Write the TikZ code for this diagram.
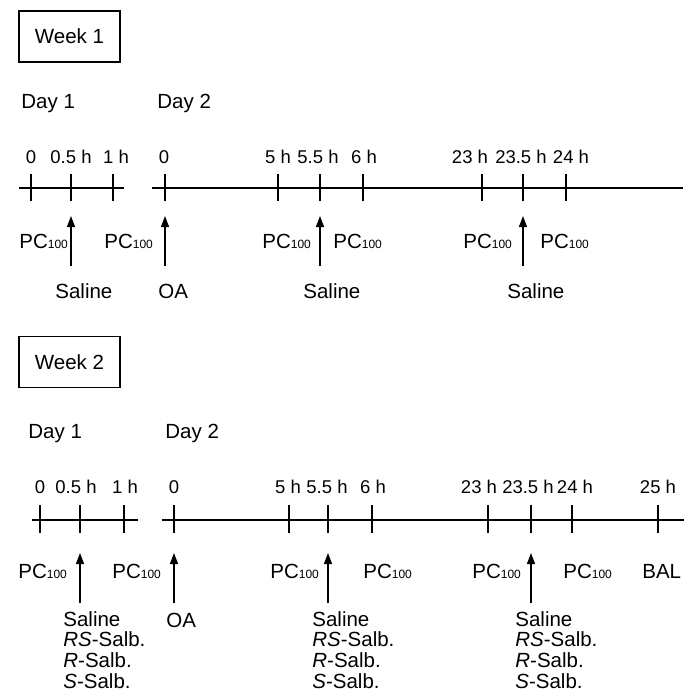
\documentclass[tikz,border=0pt]{standalone}
\usepackage{fontspec}
\setmainfont{Liberation Sans}
\usetikzlibrary{arrows.meta}
\newcommand{\pcsub}{PC{\fontsize{6}{6}\selectfont 100}}
\newcommand{\salbgroup}{Saline\\\textit{RS}-Salb.\\\textit{R}-Salb.\\\textit{S}-Salb.}

\begin{document}
\begin{tikzpicture}[x=0.5pt, y=-0.5pt,
    week/.style={draw, line width=0.6pt, minimum width=50.5pt, minimum height=25.5pt,
                 inner sep=0pt, font=\fontsize{10.25}{12}\selectfont},
    lbl/.style={anchor=base west, inner sep=0pt, font=\fontsize{10.25}{12}\selectfont},
    tlbl/.style={anchor=base, inner sep=0pt, font=\fontsize{9.25}{11}\selectfont},
    drug/.style={lbl, align=left, font=\fontsize{10.25}{10.3}\selectfont},
    axis/.style={line width=0.65pt},
    arrow/.style={-{Triangle[length=5.5pt, width=4pt]}, line width=0.65pt},
  ]
  \useasboundingbox (0,0) rectangle (693,692);

  % week 1
  \node[week] (wk1) at (69.5,36.5) {Week 1};
  \node[lbl] (w1d1) at (21,108)  {Day 1};
  \node[lbl] (w1d2) at (157,108) {Day 2};

  \draw[axis] (19,188) -- (124,188);
  \draw[axis] (152,188) -- (683,188);
  \foreach \x in {31,71,113,165,278,320,363,482,523,566}
    \draw[axis] (\x,174) -- (\x,201);
  \foreach \x/\t [count=\i] in {31/0, 71/0.5 h, 116/1 h, 164/0, 278/5 h, 318/5.5 h,
                                364/6 h, 470/23 h, 521/23.5 h, 571/24 h}
    \node[tlbl] (w1t\i) at (\x,163) {\t};

  \foreach \x [count=\i] in {19,104,262,333,463,540}
    \node[lbl] (w1pc\i) at (\x,248) {\pcsub};

  \node[lbl] (w1s1) at (55,298)  {Saline};
  \node[lbl] (w1oa) at (158,298) {OA};
  \node[lbl] (w1s2) at (303,298) {Saline};
  \node[lbl] (w1s3) at (507,298) {Saline};

  \foreach \x [count=\i] in {71,165,320,523} {
    \coordinate (w1a\i) at (\x,266);
    \coordinate (w1b\i) at (\x,216);
    \draw[arrow] (w1a\i) -- (w1b\i);
  }

  % week 2
  \node[week] (wk2) at (69.5,362) {Week 2};
  \node[lbl] (w2d1) at (28,438)  {Day 1};
  \node[lbl] (w2d2) at (165,438) {Day 2};

  \draw[axis] (32,520) -- (138,520);
  \draw[axis] (162,520) -- (684,520);
  \foreach \x in {40,80,124,174,289,328,372,488,531,572,658}
    \draw[axis] (\x,505) -- (\x,533);
  \foreach \x/\t [count=\i] in {40/0, 76/0.5 h, 125/1 h, 174/0, 288/5 h, 327/5.5 h,
                                373/6 h, 479/23 h, 528/23.5 h, 575/24 h, 658/25 h}
    \node[tlbl] (w2t\i) at (\x,493) {\t};

  \foreach \x [count=\i] in {18,112,270,363,472,563}
    \node[lbl] (w2pc\i) at (\x,578) {\pcsub};
  \node[lbl] (w2bal) at (642,578) {BAL};

  % base of a multi-line node is its last line
  \node[drug] (w2s1) at (63,688)  {\salbgroup};
  \node[lbl]  (w2oa) at (166,627) {OA};
  \node[drug] (w2s2) at (312,688) {\salbgroup};
  \node[drug] (w2s3) at (515,688) {\salbgroup};

  \foreach \x [count=\i] in {80,174,328,531} {
    \coordinate (w2a\i) at (\x,603);
    \coordinate (w2b\i) at (\x,553);
    \draw[arrow] (w2a\i) -- (w2b\i);
  }
\end{tikzpicture}
\end{document}
